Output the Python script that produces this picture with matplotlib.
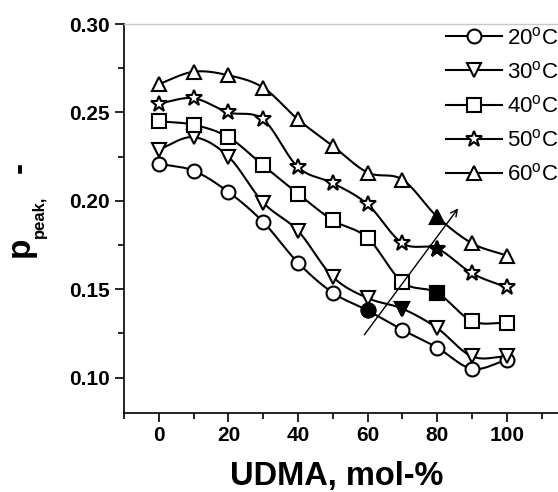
import numpy as np
import matplotlib
matplotlib.use("Agg")
import matplotlib.pyplot as plt
from matplotlib.ticker import MultipleLocator, FormatStrFormatter

plt.rcParams['font.family'] = ['Liberation Sans', 'DejaVu Sans']
plt.rcParams['mathtext.fontset'] = 'custom'
plt.rcParams['mathtext.rm'] = 'Liberation Sans'
plt.rcParams['mathtext.bf'] = 'Liberation Sans:bold'

# UDMA content, mol-%
udma = [0, 10, 20, 30, 40, 50, 60, 70, 80, 90, 100]

# p_peak for each temperature
p_20 = [0.221, 0.217, 0.205, 0.188, 0.165, 0.148, 0.138, 0.127, 0.117, 0.105, 0.110]
p_30 = [0.229, 0.236, 0.225, 0.199, 0.183, 0.157, 0.145, 0.139, 0.128, 0.112, 0.112]
p_40 = [0.245, 0.243, 0.236, 0.220, 0.204, 0.189, 0.179, 0.154, 0.148, 0.132, 0.131]
p_50 = [0.255, 0.258, 0.250, 0.246, 0.219, 0.210, 0.198, 0.176, 0.173, 0.159, 0.151]
p_60 = [0.266, 0.273, 0.271, 0.264, 0.246, 0.231, 0.216, 0.212, 0.191, 0.176, 0.169]

labels = ['20$^{\\mathrm{o}}$C', '30$^{\\mathrm{o}}$C', '40$^{\\mathrm{o}}$C',
          '50$^{\\mathrm{o}}$C', '60$^{\\mathrm{o}}$C']
markers = ['o', 'v', 's', '*', '^']
# index of the filled (peak) point in each series
filled_idx = [6, 7, 8, 8, 8]

# arrow through the filled points (data coords)
arrow_start = (58.6, 0.123)
arrow_end = (86.5, 0.197)


def catmull_rom(x, y, n=20):
    x = np.asarray(x, float)
    y = np.asarray(y, float)
    px = np.concatenate([[2 * x[0] - x[1]], x, [2 * x[-1] - x[-2]]])
    py = np.concatenate([[2 * y[0] - y[1]], y, [2 * y[-1] - y[-2]]])
    xs, ys = [], []
    t = np.linspace(0, 1, n, endpoint=False)
    for i in range(1, len(px) - 2):
        for arr, out in ((px, xs), (py, ys)):
            p0, p1, p2, p3 = arr[i - 1], arr[i], arr[i + 1], arr[i + 2]
            out.extend(0.5 * (2 * p1 + (-p0 + p2) * t
                              + (2 * p0 - 5 * p1 + 4 * p2 - p3) * t ** 2
                              + (-p0 + 3 * p1 - 3 * p2 + p3) * t ** 3))
    xs.append(x[-1])
    ys.append(y[-1])
    return np.array(xs), np.array(ys)


W, H = 558, 492
fig = plt.figure(figsize=(W / 100, H / 100), dpi=100)
ax = fig.add_axes([124 / W, 1 - 413 / H, (W - 124) / W, 389 / H])

series = [p_20, p_30, p_40, p_50, p_60]
handles = []
for vals, lab, mk, fi in zip(series, labels, markers, filled_idx):
    ms = 12 if mk == '*' else 10
    sx, sy = catmull_rom(udma, vals)
    ax.plot(sx, sy, color='black', lw=1.5, zorder=2)
    ax.plot(udma, vals, linestyle='none', marker=mk, ms=ms, mfc='white',
            mec='black', mew=1.5, zorder=3)
    ax.plot(udma[fi], vals[fi], linestyle='none', marker=mk, ms=ms, mfc='black',
            mec='black', mew=1.5, zorder=4)
    h, = ax.plot([], [], color='black', lw=1.5, marker=mk, ms=ms, mfc='white',
                 mec='black', mew=1.5, label=lab)
    handles.append(h)

ax.annotate('', xy=arrow_end, xytext=arrow_start,
            arrowprops=dict(arrowstyle='->', color='black', lw=1.0,
                            mutation_scale=12), zorder=5)

# 20 units of UDMA take about 69.6 px
ax.set_xlim(-10, -10 + (W - 124) / 3.48)
ax.set_ylim(0.08, 0.30)
ax.set_xticks([0, 20, 40, 60, 80, 100])
ax.xaxis.set_minor_locator(MultipleLocator(10))
ax.yaxis.set_major_locator(MultipleLocator(0.05))
ax.yaxis.set_minor_locator(MultipleLocator(0.025))
ax.yaxis.set_major_formatter(FormatStrFormatter('%.2f'))

ax.tick_params(which='major', direction='out', length=6.5, width=1.2,
               labelsize=15, pad=3)
ax.tick_params(axis='y', which='major', pad=4)
ax.tick_params(which='minor', direction='out', length=4.3, width=1.2)
for t in ax.get_xticklabels() + ax.get_yticklabels():
    t.set_fontweight('bold')

ax.spines['right'].set_visible(False)
ax.spines['top'].set_color('#c8c8c8')
ax.spines['top'].set_linewidth(1.0)
ax.spines['left'].set_linewidth(1.2)
ax.spines['bottom'].set_linewidth(1.2)

# x label
fig.text(337 / W, 7 / H, 'UDMA, mol-%', fontsize=23.5, fontweight='bold',
         ha='center', va='baseline')

# y label: p with subscript "peak," then " -"
rot = dict(rotation=90, rotation_mode='anchor', ha='left', va='baseline',
           fontweight='bold')
fig.text(29 / W, (H - 257) / H, 'p', fontsize=24, **rot)
fig.text(44 / W, (H - 238) / H, 'peak,', fontsize=12, **rot)
fig.text(29 / W, (H - 173) / H, '-', fontsize=24, **rot)

leg = ax.legend(handles=handles, loc='upper right',
                bbox_to_anchor=(1.0, 1 - 27 / H),
                bbox_transform=fig.transFigure, frameon=False, fontsize=16,
                handlelength=2.55, handletextpad=0.2, labelspacing=0.55,
                borderaxespad=0, borderpad=0)

fig.savefig('out.png', dpi=100)
